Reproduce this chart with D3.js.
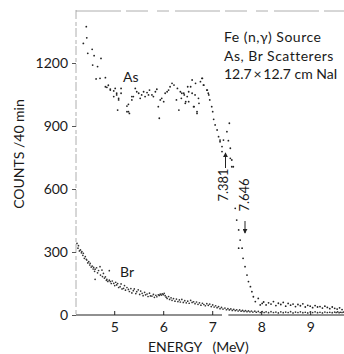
<!DOCTYPE html>
<html>
<head>
<meta charset="utf-8">
<script src="https://cdn.jsdelivr.net/npm/d3@7"></script>
<style>
  body { margin: 0; background: #fff; }
  text { font-family: Lato, "DejaVu Sans", sans-serif; fill: #1a1a1a; }
</style>
</head>
<body>
<svg id="main-svg" width="344" height="354"></svg>
<script>
// tick values
let xTicks = [5, 6, 7, 8, 9];
let yTicks = [0, 300, 600, 900, 1200];

// As scatterer spectrum  [energy MeV, counts/40min]
let asPoints = [
  [4.43,1373],[4.37,1293],[4.44,1320],[4.46,1246],[4.55,1265],[4.59,1235],[4.56,1190],[4.66,1183],
  [4.73,1222],[4.63,1124],[4.71,1127],[4.82,1130],[4.82,1087],[4.88,1094],[4.85,1084],[4.92,1071],
  [4.92,1076],[4.99,1067],[4.99,1040],[5.02,1079],[5.05,1056],[5.05,1048],[5.07,976],[5.09,1024],
  [5.09,1032],[5.14,1056],[5.14,1079],[5.26,968],[5.26,995],[5.29,968],[5.31,960],[5.29,1003],
  [5.36,1040],[5.36,1024],[5.39,1040],[5.43,1079],[5.46,1063],[5.50,1056],[5.53,1032],[5.56,1048],
  [5.60,1063],[5.63,1040],[5.67,1059],[5.70,1048],[5.72,1071],[5.77,1048],[5.80,1040],[5.84,1063],
  [5.87,1075],[5.90,992],[5.92,937],[5.94,1024],[5.97,1032],[6.01,1016],[6.04,1056],[6.08,1063],
  [6.11,1071],[6.14,1087],[6.18,1103],[6.22,1095],[6.27,1024],[6.29,1079],[6.32,976],[6.35,1063],
  [6.37,1032],[6.38,1056],[6.42,1056],[6.43,1048],[6.45,1008],[6.46,1016],[6.49,1040],[6.50,1087],
  [6.52,1016],[6.52,1063],[6.56,1087],[6.59,1119],[6.59,1056],[6.62,992],[6.63,992],[6.65,1048],
  [6.66,1103],[6.69,968],[6.69,960],[6.72,1032],[6.73,1008],[6.76,1111],[6.79,1127],[6.80,1127],
  [6.82,1095],[6.83,1095],[6.89,1071],[6.90,1071],[6.92,1056],[6.93,1048],[6.95,1024],[6.99,992],
  [7.01,968],[7.03,932],[7.06,905],[7.10,881],[7.13,849],[7.16,825],[7.16,833],[7.20,802],
  [7.20,778],[7.23,833],[7.30,873],[7.33,830],[7.35,913],[7.37,794],[7.37,746],[7.40,738],
  [7.40,706],[7.43,706],[7.47,508],[7.50,452],[7.54,405],[7.57,357],[7.54,318],[7.61,318],
  [7.63,270],[7.67,230],[7.71,190],[7.74,159],[7.78,135],[7.81,111],[7.84,87],[7.88,64],
  [7.94,79],[7.98,48],[8.02,55],[8.05,62],[8.10,48],[8.15,58],[8.20,52],[8.25,64],[8.30,45],
  [8.35,56],[8.40,50],[8.45,60],[8.50,42],[8.55,55],[8.60,47],[8.65,52],[8.70,40],[8.75,50],
  [8.80,44],[8.85,53],[8.90,38],[8.95,46],[9.00,42],[9.05,35],[9.10,45],[9.15,38],[9.20,40],
  [9.25,33],[9.30,42],[9.35,36],[9.40,30],[9.45,38],[9.50,32],[9.55,28],[9.60,34],[9.65,26]
];

// Br scatterer spectrum  [energy MeV, counts/40min]
let brPoints = [
  [4.24,341],[4.26,318],[4.27,330],[4.29,305],[4.31,310],[4.33,296],[4.34,302],[4.36,284],
  [4.37,294],[4.39,270],[4.41,278],[4.43,265],[4.44,262],[4.46,248],[4.48,254],[4.50,238],
  [4.51,246],[4.53,228],[4.55,233],[4.57,219],[4.58,227],[4.60,208],[4.61,218],[4.61,170],
  [4.64,225],[4.66,201],[4.68,212],[4.71,230],[4.72,190],[4.75,214],[4.76,183],[4.78,198],
  [4.80,176],[4.82,182],[4.84,165],[4.85,170],[4.87,160],[4.90,211],[4.90,166],[4.92,159],
  [4.94,150],[4.96,162],[4.99,151],[5.01,140],[5.03,156],[5.05,143],[5.07,150],[5.09,131],
  [5.12,135],[5.14,148],[5.16,124],[5.19,127],[5.21,140],[5.23,118],[5.26,131],[5.29,122],
  [5.31,112],[5.34,126],[5.36,105],[5.39,116],[5.41,124],[5.44,102],[5.46,111],[5.49,120],
  [5.52,98],[5.54,114],[5.57,103],[5.59,92],[5.62,108],[5.64,96],[5.67,100],[5.69,88],
  [5.72,104],[5.74,91],[5.77,90],[5.80,98],[5.82,84],[5.85,94],[5.87,87],[5.90,96],
  [5.92,93],[5.94,99],[5.96,95],[5.98,101],[6.00,97],[6.02,103],[6.04,92],[6.06,85],
  [6.08,79],[6.11,88],[6.13,74],[6.16,82],[6.18,70],[6.21,78],[6.24,66],[6.27,76],
  [6.30,64],[6.33,72],[6.35,62],[6.38,74],[6.41,60],[6.44,68],[6.47,58],[6.50,66],
  [6.53,56],[6.56,70],[6.59,60],[6.62,63],[6.65,54],[6.68,62],[6.71,51],[6.74,58],
  [6.77,47],[6.80,56],[6.83,50],[6.86,44],[6.89,54],[6.92,46],[6.95,52],[6.98,40],
  [7.01,48],[7.04,38],[7.07,44],[7.10,35],[7.13,40],[7.16,30],[7.19,36],[7.22,28],
  [7.26,33],[7.29,25],[7.32,30],[7.35,24],[7.38,29],[7.41,22],[7.44,27],[7.47,21],
  [7.50,25],[7.53,19],[7.56,24],[7.59,18],[7.62,22],[7.65,17],[7.68,21],[7.71,16],
  [7.74,20],[7.77,15],[7.80,19],[7.83,14],[7.87,18],[7.90,13],[7.94,17],[7.98,12],
  [8.02,16],[8.06,12],[8.10,15],[8.15,11],[8.20,16],[8.25,12],[8.30,14],[8.35,10],
  [8.40,15],[8.45,11],[8.50,14],[8.55,12],[8.60,16],[8.65,10],[8.70,14],[8.75,12],
  [8.80,15],[8.85,11],[8.90,13],[8.95,10],[9.00,14],[9.05,12],[9.10,15],[9.15,11],
  [9.20,13],[9.25,10],[9.30,14],[9.35,12],[9.40,13],[9.45,11],[9.50,14],[9.53,12],
  [9.56,15],[9.59,11],[9.62,13],[9.65,12],[9.68,14]
];

let legendLines = ["Fe (n,\u03b3) Source", "As, Br Scatterers", "12.7\u2009\u00d7\u200912.7 cm NaI"];

let svg = d3.select("#main-svg");

let x = d3.scaleLinear().domain([4.22, 9.69]).range([76, 344]);
let y = d3.scaleLinear().domain([0, 1200]).range([315, 63]);
let yTop = 10;

// faint frame (left + top), like the scanned original
svg.append("line")
  .attr("x1", 76).attr("x2", 76).attr("y1", yTop).attr("y2", y(0))
  .attr("stroke", "#999").attr("stroke-width", 0.8).attr("stroke-dasharray", "9,3,4,2");
svg.append("line")
  .attr("x1", 76).attr("x2", 344).attr("y1", yTop + 1).attr("y2", yTop + 1)
  .attr("stroke", "#999").attr("stroke-width", 0.8).attr("stroke-dasharray", "45,5,22,9,12,6");

// bottom axis line, broken near 7.25 MeV
svg.append("line")
  .attr("x1", 76).attr("x2", x(7.2)).attr("y1", y(0)).attr("y2", y(0))
  .attr("stroke", "#222").attr("stroke-width", 1.2);
svg.append("line")
  .attr("x1", x(7.33)).attr("x2", 344).attr("y1", y(0)).attr("y2", y(0))
  .attr("stroke", "#222").attr("stroke-width", 1.2);

let xAxis = d3.axisBottom(x).tickValues(xTicks).tickSize(-4).tickPadding(7).tickFormat(d3.format("d"));
let gx = svg.append("g").attr("transform", "translate(0," + y(0) + ")").call(xAxis);
gx.select(".domain").remove();
gx.selectAll("line").attr("stroke", "#222");
gx.selectAll("text").style("font-size", "14px").attr("fill", "#1a1a1a");

let yAxis = d3.axisLeft(y).tickValues(yTicks).tickSize(4).tickPadding(4).tickFormat(d3.format("d"));
let gy = svg.append("g").attr("transform", "translate(76,0)").call(yAxis);
gy.select(".domain").remove();
gy.selectAll("line").attr("stroke", "#555");
gy.selectAll("text").style("font-size", "14px").attr("fill", "#1a1a1a");

// axis titles
svg.append("text")
  .attr("transform", "translate(24,154) rotate(-90)")
  .style("text-anchor", "middle").style("font-size", "14px")
  .text("COUNTS /40 min");

svg.append("text")
  .attr("x", 148).attr("y", 352)
  .style("font-size", "14px")
  .attr("xml:space", "preserve")
  .text("ENERGY   (MeV)");

// data points
let dots = svg.append("g");
dots.selectAll(".as").data(asPoints).enter().append("circle")
  .attr("class", "as")
  .attr("cx", function (d) { return x(d[0]); })
  .attr("cy", function (d) { return y(d[1]); })
  .attr("r", 0.9).attr("fill", "#222");
dots.selectAll(".br").data(brPoints).enter().append("circle")
  .attr("class", "br")
  .attr("cx", function (d) { return x(d[0]); })
  .attr("cy", function (d) { return y(d[1]); })
  .attr("r", 0.85).attr("fill", "#333");

// series labels
svg.append("text").attr("x", 123).attr("y", 82).style("font-size", "14px").text("As");
svg.append("text").attr("x", 120).attr("y", 277).style("font-size", "14px").text("Br");

// legend block
svg.append("g").selectAll("text").data(legendLines).enter().append("text")
  .attr("x", 224)
  .attr("y", function (d, i) { return 42 + i * 18.5; })
  .style("font-size", "14px")
  .style("letter-spacing", function (d, i) { return i < 2 ? "0.5px" : "0px"; })
  .text(function (d) { return d; });

// line annotations
svg.append("text")
  .attr("transform", "translate(228,185) rotate(-90)")
  .style("text-anchor", "middle").style("font-size", "13px")
  .text("7.381");
svg.append("text")
  .attr("transform", "translate(249,195) rotate(-90)")
  .style("text-anchor", "middle").style("font-size", "13px")
  .text("7.646");

svg.append("defs").append("marker")
  .attr("id", "head").attr("viewBox", "0 0 6 6").attr("refX", 5).attr("refY", 3)
  .attr("markerWidth", 5).attr("markerHeight", 5).attr("orient", "auto")
  .append("path").attr("d", "M0,0 L6,3 L0,6 Z").attr("fill", "#222");

svg.append("line")
  .attr("x1", 225.5).attr("x2", 225.5).attr("y1", 168).attr("y2", 153)
  .attr("stroke", "#222").attr("stroke-width", 1).attr("marker-end", "url(#head)");
svg.append("line")
  .attr("x1", 245).attr("x2", 245).attr("y1", 221).attr("y2", 233)
  .attr("stroke", "#222").attr("stroke-width", 1).attr("marker-end", "url(#head)");
</script>
</body>
</html>
